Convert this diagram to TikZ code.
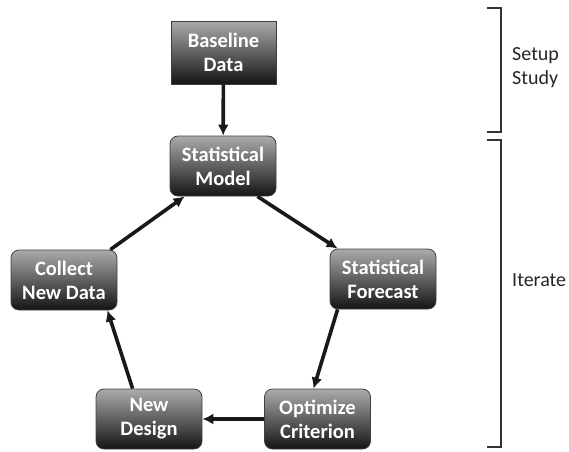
\documentclass[tikz,border=0pt]{standalone}
\usepackage{fontspec}
\setmainfont{Carlito}
\usetikzlibrary{arrows.meta}
\begin{document}
\begin{tikzpicture}[x=1pt,y=-1pt]
\tikzstyle{every node}+=[inner sep=0pt]
\tikzstyle{stepnode}=[draw=black!75,line width=0.8pt,top color=black!33,bottom color=black!92,
  text=white,font=\fontsize{20.5}{24}\selectfont\bfseries,align=center,
  minimum width=106pt,minimum height=60pt,rounded corners=8pt]
\tikzstyle{flow}=[line width=3.6pt,black!90,-{Latex[length=11pt,width=11pt]}]
\tikzstyle{brace}=[line width=1.4pt,black!80]
\useasboundingbox (0,0) rectangle (569,451);
\node [stepnode,rounded corners=0pt,minimum height=63pt,minimum width=105pt] (base) at (223.5,52.5) {Baseline\\Data};
\node [stepnode] (model) at (223,166) {Statistical\\Model};
\node [stepnode] (forecast) at (383,279) {Statistical\\Forecast};
\node [stepnode] (optimize) at (317.5,419) {Optimize\\Criterion};
\node [stepnode] (design) at (149,419) {New\\Design};
\node [stepnode] (collect) at (64,280) {Collect\\New Data};
\draw [flow] (base) -- (model);
\draw [flow] ([xshift=-19pt]model.south east) -- ([xshift=8pt]forecast.north west);
\draw [flow] ([xshift=8pt]forecast.south west) -- ([xshift=-4pt]optimize.north);
\draw [flow] (optimize) -- (design);
\draw [flow] ([xshift=37pt]design.north west) -- ([xshift=-10pt]collect.south east);
\draw [flow] ([xshift=-7pt]collect.north east) -- ([xshift=15pt]model.south west);
\coordinate (s1) at (487,8);
\coordinate (s2) at (487,132);
\coordinate (i1) at (487,140);
\coordinate (i2) at (487,447);
\draw [brace] (s1) -| (501,132) -- (s2);
\draw [brace] (i1) -| (501,447) -- (i2);
\node [anchor=west,align=left,font=\fontsize{20}{24}\selectfont,text=black!85] (setup) at (512,68) {Setup\\Study};
\node [anchor=west,font=\fontsize{20}{24}\selectfont,text=black!85] (iterate) at (512,280) {Iterate};
\end{tikzpicture}
\end{document}
